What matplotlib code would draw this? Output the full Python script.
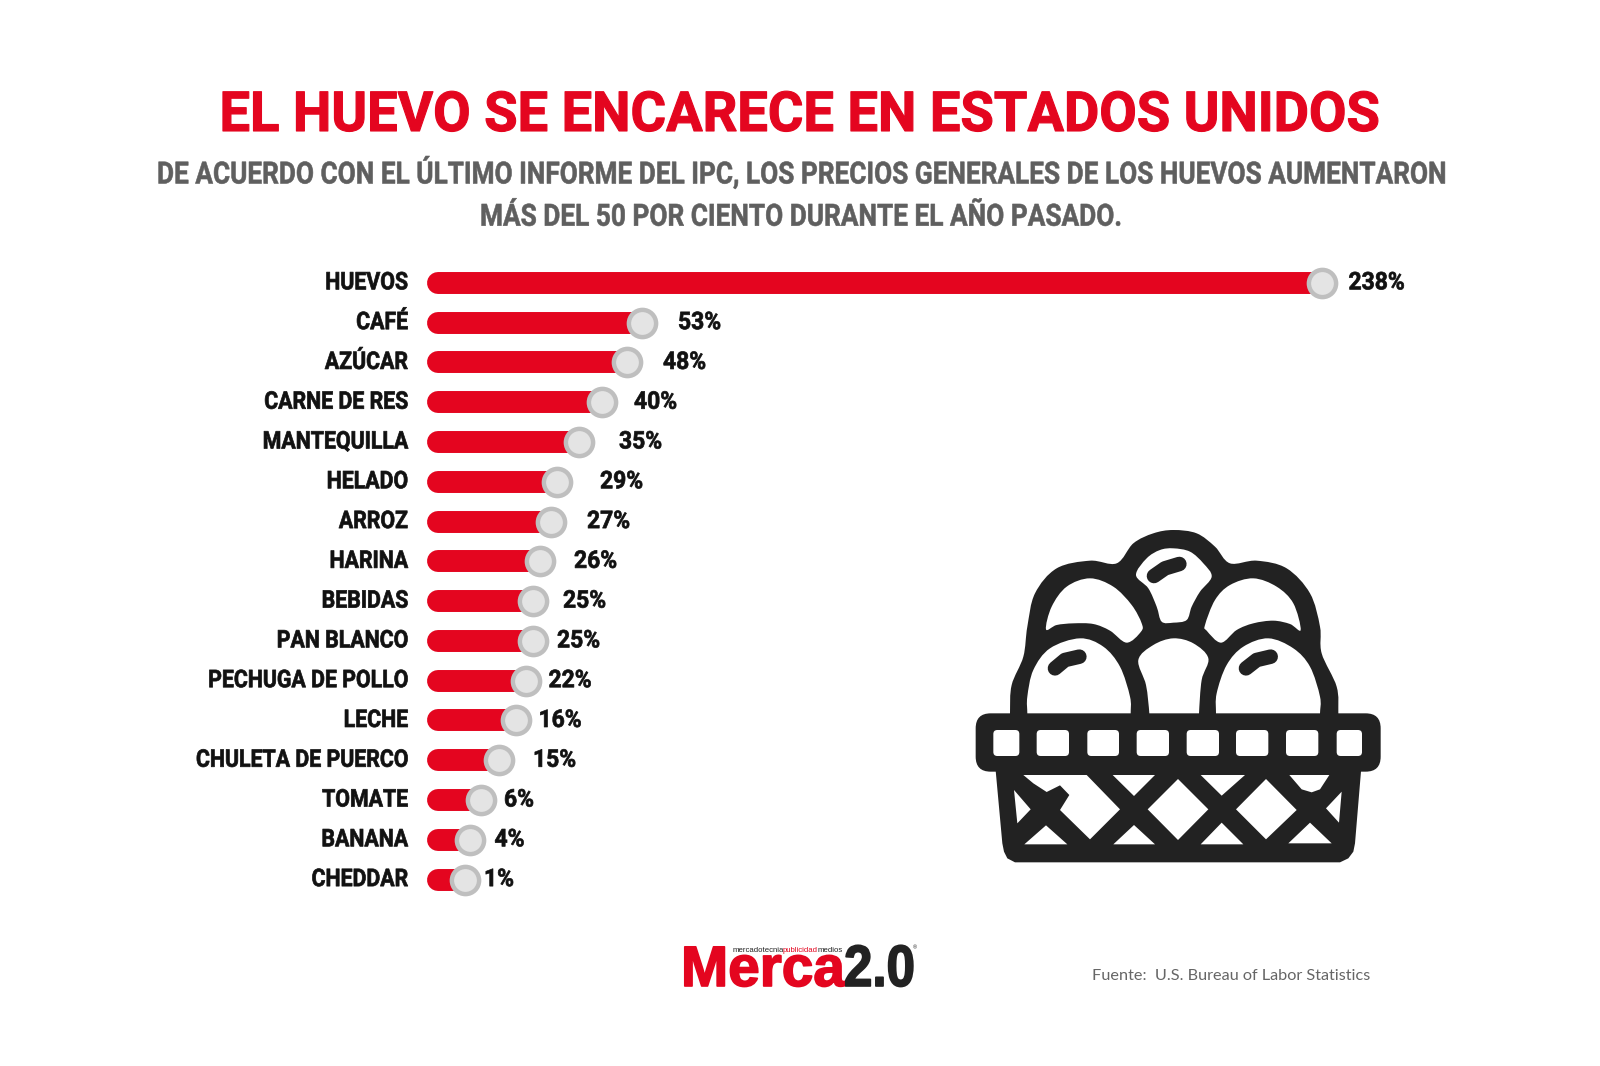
import numpy as np
import matplotlib
matplotlib.use("Agg")
import matplotlib.pyplot as plt
from matplotlib.path import Path
from matplotlib.patches import PathPatch, FancyBboxPatch, Polygon
from matplotlib.patheffects import AbstractPathEffect
from matplotlib.transforms import Affine2D

# Data
categories = ["HUEVOS", "CAFÉ", "AZÚCAR", "CARNE DE RES", "MANTEQUILLA", "HELADO", "ARROZ", "HARINA",
              "BEBIDAS", "PAN BLANCO", "PECHUGA DE POLLO", "LECHE", "CHULETA DE PUERCO", "TOMATE",
              "BANANA", "CHEDDAR"]
values = [238, 53, 48, 40, 35, 29, 27, 26, 25, 25, 22, 16, 15, 6, 4, 1]

title = "EL HUEVO SE ENCARECE EN ESTADOS UNIDOS"
subtitle_1 = "DE ACUERDO CON EL ÚLTIMO INFORME DEL IPC, LOS PRECIOS GENERALES DE LOS HUEVOS AUMENTARON"
subtitle_2 = "MÁS DEL 50 POR CIENTO DURANTE EL AÑO PASADO."
source = "Fuente:  U.S. Bureau of Labor Statistics"

RED = "#e4051f"
DARK = "#222222"
GREY = "#5f5f5f"
INK = "#111111"
FONT = "Roboto"

# the bars in the original are not on a linear axis, so the x scale is piecewise
scale_values = [-2, 0, 1, 4, 6, 15, 16, 22, 25, 26, 27, 29, 35, 40, 48, 53, 238, 260]
scale_pixels = [427, 438, 465, 470.5, 481, 499, 515.5, 525.5, 533, 540, 551, 557, 579, 602, 627, 642, 1321.5, 1500]
# gap from marker centre to the value label, in pixels
label_gaps = [27, 36, 36, 32, 40, 43, 36, 34, 30, 24, 23, 23, 34, 23, 24, 19]


def forward(v):
    return np.interp(v, scale_values, scale_pixels)


def inverse(p):
    return np.interp(p, scale_pixels, scale_values)


# No condensed font is installed, so the glyphs get squeezed when they are drawn
class Squeeze(AbstractPathEffect):
    def __init__(self, sx, x0, bold=0.0):
        super().__init__()
        self.sx, self.x0, self.bold = sx, x0, bold

    def draw_path(self, renderer, gc, tpath, affine, rgbFace=None):
        aff = affine + Affine2D().translate(-self.x0, 0).scale(self.sx, 1).translate(self.x0, 0)
        gc0 = renderer.new_gc()
        gc0.copy_properties(gc)
        gc0.set_foreground(rgbFace)
        gc0.set_linewidth(self.bold)
        renderer.draw_path(gc0, tpath, aff, rgbFace)
        gc0.restore()


def px_text(x, y, s, **kw):
    return fig.text(x / 1600, 1 - y / 1066, s, **kw)


def fit(t, width, x0, bold=0.0):
    t.set_path_effects([Squeeze(width / t.get_window_extent().width, x0, bold)])


fig = plt.figure(figsize=(16, 10.66), dpi=100, facecolor="white")

# Bars
ax = fig.add_axes([427 / 1600, 1 - 899.5 / 1066, (1500 - 427) / 1600, (899.5 - 263) / 1066])
ax.set_xscale("function", functions=(forward, inverse))
ax.set_xlim(-2, 260)
ax.set_ylim(len(values) - 0.5, -0.5)
ypos = np.arange(len(values))
value_labels = []
for y, v, gap in zip(ypos, values, label_gaps):
    ax.plot([0, v], [y, y], color=RED, lw=15.8, solid_capstyle="round", zorder=2)
    ax.plot([v], [y], "o", ms=19.6, mfc="#e4e4e4", mec="#bfbfbf", mew=3.2, zorder=3)
    value_labels.append(ax.annotate(f"{v}%", (v, y), xytext=(gap * 0.72, 0), textcoords="offset points",
                                    va="center", ha="left", fontsize=17.5, fontweight="bold",
                                    family=FONT, color=INK))
ax.set_yticks(ypos, categories, fontsize=17.5, fontweight="bold", family=FONT, color=INK, va="center")
ax.set_xticks([])
ax.tick_params(axis="y", length=0, pad=13.7)
ax.minorticks_off()
ax.tick_params(axis="x", which="both", length=0, labelbottom=False)
for s in ax.spines.values():
    s.set_visible(False)
ax.patch.set_alpha(0)

# Headings
t_title = px_text(800, 131, title, ha="center", va="baseline", fontsize=39.8, fontweight="bold", family=FONT, color=RED)
t_sub1 = px_text(800, 183.5, subtitle_1, ha="center", va="baseline", fontsize=22, fontweight="bold", family=FONT, color=GREY)
t_sub2 = px_text(800, 225.7, subtitle_2, ha="center", va="baseline", fontsize=22, fontweight="bold", family=FONT, color=GREY)

# Footer
px_text(1092, 976, source, ha="left", va="center", fontsize=11.7, family="Lato", color="#666666")
t_merca = px_text(681, 986, "Merca", ha="left", va="baseline", fontsize=41, fontweight="bold", family="Liberation Sans", color=RED)
t_two = px_text(844, 986, "2.0", ha="left", va="baseline", fontsize=42, fontweight="bold", family="Liberation Sans", color=DARK)
px_text(733, 951.7, "mercadotecnia", ha="left", va="baseline", fontsize=5.6, family="Liberation Sans", color=DARK)
px_text(782.7, 951.7, "publicidad", ha="left", va="baseline", fontsize=5.6, family="Liberation Sans", color=RED)
px_text(818, 951.7, "medios", ha="left", va="baseline", fontsize=5.6, family="Liberation Sans", color=DARK)
px_text(913, 949, "®", ha="left", va="baseline", fontsize=4, family="Liberation Sans", color=DARK)

# squeeze the text to the widths in the original
fig.canvas.draw()
fit(t_title, 1161, 800, 0.8)
fit(t_sub1, 1286, 800, 0.4)
fit(t_sub2, 640, 800, 0.4)
fit(t_merca, 164, 681, 1.2)
fit(t_two, 71, 844, 1.2)
ticks = ax.get_yticklabels()
sx_cat = 212 / ticks[categories.index("CHULETA DE PUERCO")].get_window_extent().width
for t in ticks:
    t.set_path_effects([Squeeze(sx_cat, 408, 0.5)])
sx_val = 56 / value_labels[0].get_window_extent().width
for t, v, gap in zip(value_labels, values, label_gaps):
    t.set_path_effects([Squeeze(sx_val, float(forward(v)) + gap, 0.5)])

# Egg basket icon, coordinates in a local 3x grid
icon = fig.add_axes([940 / 1600, 1 - 866 / 1066, 460 / 1600, 366 / 1066])
icon.set_xlim(0, 1380)
icon.set_ylim(1098, 0)
icon.axis("off")


def blob(pts, color="white", zorder=2):
    # closed Catmull-Rom curve through the points
    pts = np.array(pts, dtype=float)
    n = len(pts)
    verts = [pts[0]]
    codes = [Path.MOVETO]
    for i in range(n):
        p0, p1, p2, p3 = pts[i - 1], pts[i], pts[(i + 1) % n], pts[(i + 2) % n]
        verts += [p1 + (p2 - p0) / 6, p2 - (p3 - p1) / 6, p2]
        codes += [Path.CURVE4] * 3
    icon.add_patch(PathPatch(Path(verts, codes), fc=color, ec="none", zorder=zorder))


def stroke(xs, ys):
    icon.plot(xs, ys, color=DARK, lw=10.5, solid_capstyle="round", zorder=4)


# silhouette, the rim and basket sit on top of the eggs
blob([(210, 720), (210, 640), (215, 555), (250, 470), (262, 380), (285, 280), (350, 205), (450, 182),
      (530, 190), (580, 130), (640, 100), (700, 90), (770, 100), (825, 140), (870, 190), (950, 182), (1040, 205),
      (1110, 280), (1140, 380), (1145, 460), (1190, 560), (1195, 640), (1195, 720)], DARK, 1)
icon.add_patch(FancyBboxPatch((107, 640), 1215, 175, boxstyle="round,pad=0,rounding_size=45", fc=DARK, ec="none", zorder=3))
icon.add_patch(Polygon([(165, 790), (1265, 790), (1245, 1030), (1240, 1055), (1225, 1075), (1200, 1087), (225, 1087),
                        (202, 1075), (192, 1055), (187, 1030)], fc=DARK, ec="none", zorder=3))

# eggs, the lower ends run on straight under the rim
blob([(318, 388), (335, 320), (380, 260), (450, 235), (520, 260), (575, 315), (605, 370), (603, 395),
      (560, 428), (510, 392), (460, 372), (400, 370), (350, 375)])
blob([(1082, 390), (1060, 310), (1010, 260), (940, 235), (870, 255), (825, 300), (795, 375), (800, 392),
      (843, 428), (890, 390), (940, 370), (1000, 362), (1050, 372)])
blob([(588, 225), (620, 175), (660, 150), (700, 145), (750, 155), (790, 190), (815, 230), (780, 275), (755, 320),
      (740, 360), (700, 368), (665, 365), (650, 320), (625, 265)])
blob([(262, 720), (262, 680), (262, 640), (262, 590), (280, 510), (330, 445), (420, 415), (490, 440), (540, 500),
      (570, 590), (572, 640), (572, 680), (572, 720)])
blob([(595, 480), (640, 435), (700, 415), (760, 430), (805, 475), (785, 540), (777, 640), (777, 680), (777, 720),
      (628, 720), (628, 680), (628, 640), (618, 555)])
blob([(828, 720), (828, 680), (828, 640), (830, 580), (860, 495), (910, 440), (985, 415), (1060, 445), (1110, 500),
      (1140, 590), (1140, 640), (1140, 680), (1140, 720)])

# highlights
stroke([642, 675, 718], [228, 205, 192])
stroke([345, 375, 418], [505, 480, 470])
stroke([918, 950, 992], [505, 480, 470])

# rim windows
for x0, x1 in [(160, 238), (290, 387), (442, 537), (590, 687), (740, 837), (888, 985), (1038, 1135), (1190, 1266)]:
    icon.add_patch(FancyBboxPatch((x0, 690), x1 - x0, 78, boxstyle="round,pad=0,rounding_size=12",
                                  fc="white", ec="none", zorder=4))

# lattice
holes = [
    [(250, 825), (440, 825), (540, 928), (450, 1018), (360, 930), (388, 885), (360, 856), (320, 876), (280, 850)],
    [(518, 825), (645, 825), (582, 888)],
    [(782, 825), (915, 825), (845, 887)],
    [(1048, 825), (1168, 825), (1140, 868), (1115, 877), (1085, 868)],
    [(714, 837), (805, 928), (714, 1020), (623, 928)],
    [(978, 837), (1070, 930), (978, 1018), (888, 928)],
    [(222, 870), (272, 928), (232, 970)],
    [(1205, 875), (1158, 925), (1197, 968)],
    [(253, 1033), (318, 976), (382, 1033)],
    [(520, 1033), (582, 975), (645, 1033)],
    [(782, 1033), (845, 968), (910, 1033)],
    [(1045, 1030), (1110, 968), (1175, 1030)],
]
for h in holes:
    icon.add_patch(Polygon(h, fc="white", ec="none", zorder=4))

fig.savefig("out.png", dpi=100, facecolor="white")
